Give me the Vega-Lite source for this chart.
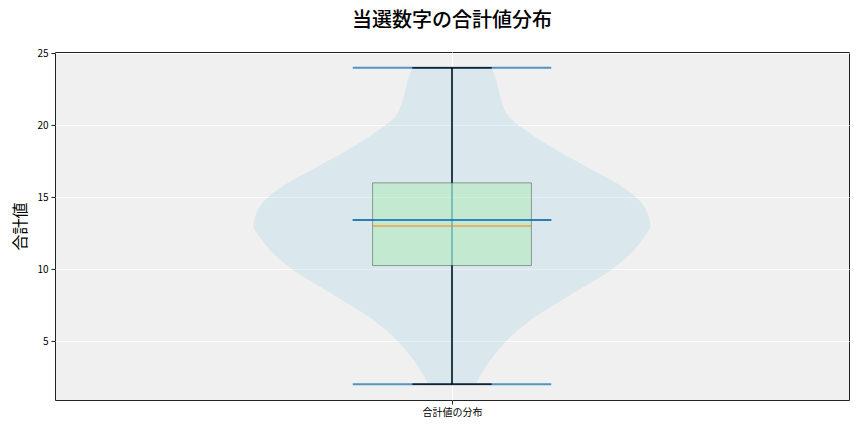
{
  "$schema": "https://vega.github.io/schema/vega-lite/v6.json",
  "autosize": "none",
  "padding": {"left": 55, "top": 52, "right": 15, "bottom": 32},
  "width": 794,
  "height": 348,
  "background": "white",
  "title": {
    "text": "当選数字の合計値分布",
    "fontSize": 20,
    "fontWeight": 500,
    "font": "Noto Sans CJK JP",
    "color": "black",
    "anchor": "middle",
    "offset": 17
  },
  "datasets": {
    "violin": [
      {"v": 2.0, "lo": 0.970, "hi": 1.030},
      {"v": 3.0, "lo": 0.960, "hi": 1.040},
      {"v": 4.15, "lo": 0.945, "hi": 1.055},
      {"v": 5.3, "lo": 0.926, "hi": 1.074},
      {"v": 6.46, "lo": 0.901, "hi": 1.099},
      {"v": 7.62, "lo": 0.868, "hi": 1.132},
      {"v": 8.77, "lo": 0.834, "hi": 1.166},
      {"v": 9.93, "lo": 0.800, "hi": 1.200},
      {"v": 11.09, "lo": 0.775, "hi": 1.225},
      {"v": 12.24, "lo": 0.758, "hi": 1.242},
      {"v": 13.0, "lo": 0.750, "hi": 1.250},
      {"v": 13.63, "lo": 0.752, "hi": 1.248},
      {"v": 14.79, "lo": 0.764, "hi": 1.236},
      {"v": 15.95, "lo": 0.792, "hi": 1.208},
      {"v": 17.1, "lo": 0.830, "hi": 1.170},
      {"v": 18.26, "lo": 0.868, "hi": 1.132},
      {"v": 19.42, "lo": 0.901, "hi": 1.099},
      {"v": 20.58, "lo": 0.928, "hi": 1.072},
      {"v": 21.74, "lo": 0.938, "hi": 1.062},
      {"v": 22.9, "lo": 0.943, "hi": 1.057},
      {"v": 24.0, "lo": 0.950, "hi": 1.050}
    ],
    "box": [
      {"min": 2, "q1": 10.25, "median": 13, "q3": 16, "max": 24, "mean": 13.42}
    ],
    "ends": [
      {"stat": "min", "value": 2},
      {"stat": "mean", "value": 13.42},
      {"stat": "max", "value": 24}
    ]
  },
  "layer": [
    {
      "data": {"name": "violin"},
      "mark": {"type": "area", "orient": "horizontal", "interpolate": "monotone", "color": "#add8e6", "opacity": 0.33},
      "encoding": {
        "y": {
          "field": "v",
          "type": "quantitative",
          "scale": {"domain": [0.9, 25.1], "nice": false, "zero": false},
          "axis": {"values": [5, 10, 15, 20, 25], "title": "合計値"}
        },
        "x": {
          "field": "lo",
          "type": "quantitative",
          "scale": {"domain": [0.5, 1.5], "nice": false, "zero": false},
          "axis": {"values": [1], "labelExpr": "'合計値の分布'", "title": null}
        },
        "x2": {"field": "hi"}
      }
    },
    {
      "data": {"name": "box"},
      "mark": {"type": "rule", "color": "#1f77b4", "opacity": 0.75, "strokeWidth": 1.5},
      "encoding": {
        "x": {"datum": 1, "type": "quantitative"},
        "y": {"field": "min", "type": "quantitative"},
        "y2": {"field": "max"}
      }
    },
    {
      "data": {"name": "ends"},
      "mark": {"type": "rule", "color": "#1f77b4", "opacity": 0.75, "strokeWidth": 2},
      "encoding": {
        "x": {"datum": 0.875, "type": "quantitative"},
        "x2": {"datum": 1.125},
        "y": {"field": "value", "type": "quantitative"}
      }
    },
    {
      "data": {"name": "box"},
      "mark": {"type": "rect", "color": "lightgreen", "fillOpacity": 0.3, "stroke": "black", "strokeOpacity": 0.35, "strokeWidth": 1},
      "encoding": {
        "x": {"datum": 0.9, "type": "quantitative"},
        "x2": {"datum": 1.1},
        "y": {"field": "q1", "type": "quantitative"},
        "y2": {"field": "q3"}
      }
    },
    {
      "data": {"name": "box"},
      "mark": {"type": "rule", "color": "black", "strokeWidth": 1.3},
      "encoding": {
        "x": {"datum": 1, "type": "quantitative"},
        "y": {"field": "q3", "type": "quantitative"},
        "y2": {"field": "max"}
      }
    },
    {
      "data": {"name": "box"},
      "mark": {"type": "rule", "color": "black", "strokeWidth": 1.3},
      "encoding": {
        "x": {"datum": 1, "type": "quantitative"},
        "y": {"field": "min", "type": "quantitative"},
        "y2": {"field": "q1"}
      }
    },
    {
      "data": {"name": "box"},
      "mark": {"type": "rule", "color": "black", "strokeWidth": 1.3},
      "encoding": {
        "x": {"datum": 0.95, "type": "quantitative"},
        "x2": {"datum": 1.05},
        "y": {"field": "max", "type": "quantitative"}
      }
    },
    {
      "data": {"name": "box"},
      "mark": {"type": "rule", "color": "black", "strokeWidth": 1.3},
      "encoding": {
        "x": {"datum": 0.95, "type": "quantitative"},
        "x2": {"datum": 1.05},
        "y": {"field": "min", "type": "quantitative"}
      }
    },
    {
      "data": {"name": "box"},
      "mark": {"type": "rule", "color": "#ff7f0e", "strokeWidth": 1.2},
      "encoding": {
        "x": {"datum": 0.9, "type": "quantitative"},
        "x2": {"datum": 1.1},
        "y": {"field": "median", "type": "quantitative"}
      }
    },
    {
      "data": {"name": "box"},
      "mark": {"type": "rule", "color": "#1f77b4", "opacity": 0.75, "strokeWidth": 2},
      "encoding": {
        "x": {"datum": 0.875, "type": "quantitative"},
        "x2": {"datum": 1.125},
        "y": {"field": "mean", "type": "quantitative"}
      }
    }
  ],
  "config": {
    "font": "Noto Sans CJK JP",
    "view": {"fill": "#f0f0f0", "stroke": "#222222", "strokeWidth": 1},
    "axis": {
      "domain": false,
      "grid": true,
      "gridColor": "white",
      "gridOpacity": 1,
      "gridWidth": 1,
      "tickColor": "#222222",
      "tickSize": 4,
      "labelColor": "black",
      "labelFontSize": 10,
      "labelFont": "Noto Sans CJK JP",
      "labelPadding": 3,
      "titleFont": "Noto Sans CJK JP",
      "titleColor": "black"
    },
    "axisY": {
      "titleFontSize": 16,
      "titleFontWeight": "normal",
      "titlePadding": 8
    }
  }
}
